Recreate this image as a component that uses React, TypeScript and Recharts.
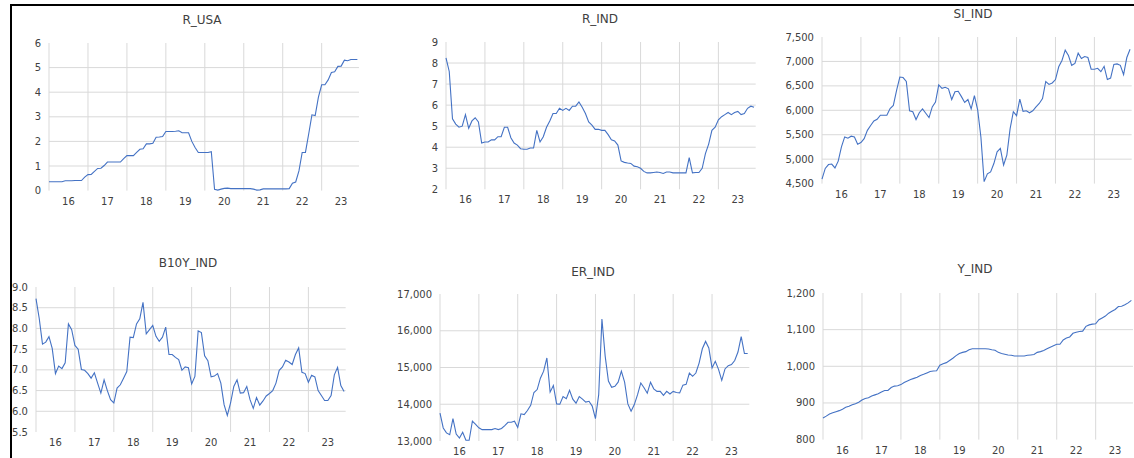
import React from "react";
import { Line, LineChart, ReferenceLine, XAxis, YAxis } from "recharts";

// monthly series, Jan 2016 - Dec 2023 (96 points each)
const yearLabels = ["16", "17", "18", "19", "20", "21", "22", "23"];
const yearStarts = [0, 12, 24, 36, 48, 60, 72, 84];
const yearMids = [6, 18, 30, 42, 54, 66, 78, 90];

const rUsa = [
  0.36, 0.36, 0.36, 0.36, 0.36, 0.4, 0.4, 0.4, 0.41, 0.41, 0.41, 0.55,
  0.65, 0.66, 0.78, 0.9, 0.91, 1.02, 1.16, 1.16, 1.16, 1.16, 1.16, 1.3,
  1.42, 1.42, 1.42, 1.55, 1.68, 1.7, 1.9, 1.9, 1.92, 2.17, 2.18, 2.2,
  2.4, 2.4, 2.4, 2.41, 2.43, 2.35, 2.35, 2.35, 2.0, 1.75, 1.55, 1.55,
  1.55, 1.55, 1.58, 0.05, 0.02, 0.06, 0.09, 0.1, 0.08, 0.08, 0.08, 0.08,
  0.08, 0.08, 0.08, 0.06, 0.02, 0.03, 0.07, 0.07, 0.07, 0.07, 0.07, 0.07,
  0.07, 0.07, 0.08, 0.3, 0.35, 0.8, 1.55, 1.55, 2.3, 3.08, 3.05, 3.8,
  4.3, 4.3, 4.5, 4.8, 4.83, 5.05, 5.06, 5.3, 5.28, 5.33, 5.33, 5.33,
];

const rInd = [
  8.25, 7.6, 5.35, 5.1, 4.95, 5.0, 5.55, 4.9, 5.25, 5.4, 5.2, 4.2,
  4.25, 4.25, 4.35, 4.35, 4.5, 4.5, 4.95, 4.95, 4.45, 4.2, 4.1, 3.93,
  3.9, 3.9, 3.96, 3.96, 4.8, 4.25, 4.5, 4.95, 5.25, 5.6, 5.6, 5.85,
  5.75, 5.85, 5.75, 5.95, 5.95, 6.15, 5.9, 5.6, 5.2, 5.05, 4.85, 4.85,
  4.8, 4.8, 4.6, 4.35, 4.3, 4.1, 3.35, 3.28, 3.25, 3.23, 3.1, 3.07,
  3.0, 2.85, 2.78, 2.78, 2.8, 2.82, 2.8, 2.75, 2.82, 2.82, 2.78, 2.78,
  2.78, 2.78, 2.78, 3.5, 2.78, 2.8, 2.8, 3.0, 3.7, 4.15, 4.8, 4.95,
  5.3, 5.45, 5.55, 5.65, 5.55, 5.65, 5.7, 5.55, 5.6, 5.85, 5.95, 5.9,
];

const siInd = [
  4590, 4810, 4890, 4900, 4820, 4960, 5250, 5455, 5430, 5470, 5455, 5305,
  5340, 5420, 5590, 5690, 5780, 5815, 5900, 5900, 5900, 6035, 6100, 6410,
  6680, 6670, 6590, 5990, 5970, 5810, 5950, 6030, 5940, 5850, 6070, 6170,
  6520, 6450, 6470, 6440, 6220, 6380, 6390, 6280, 6160, 6220, 6030, 6300,
  6010, 5455, 4540, 4700, 4740, 4910, 5150, 5220, 4880, 5080, 5620, 5970,
  5890, 6230, 5980, 5990, 5950, 5990, 6070, 6140, 6240, 6590, 6530, 6560,
  6630, 6890, 7020, 7230, 7120, 6920, 6960, 7170, 7060, 7100, 7080, 6840,
  6840, 6860, 6790, 6900, 6630, 6660, 6940, 6950, 6920, 6730, 7080, 7250,
];

const b10yInd = [
  8.72, 8.24, 7.62, 7.67, 7.8, 7.52, 6.91, 7.09, 7.03, 7.17, 8.11, 7.97,
  7.59, 7.5, 7.01, 6.99, 6.91, 6.8, 6.93, 6.68, 6.44, 6.76, 6.5, 6.28,
  6.2, 6.56, 6.64, 6.8, 6.96, 7.79, 7.78, 8.11, 8.23, 8.63, 7.87, 7.97,
  8.07, 7.81, 7.69, 7.79, 8.03, 7.37, 7.37, 7.3, 7.25, 6.99, 7.07, 7.05,
  6.66, 6.84, 7.94, 7.9, 7.34, 7.22, 6.83, 6.85, 6.91, 6.68, 6.16, 5.9,
  6.2, 6.6, 6.76, 6.44, 6.45, 6.6, 6.28, 6.07, 6.33, 6.15, 6.25, 6.37,
  6.43, 6.5, 6.68, 6.99, 7.07, 7.23, 7.19, 7.13, 7.37, 7.53, 6.94, 6.91,
  6.7, 6.87, 6.83, 6.5, 6.38, 6.26, 6.26, 6.38, 6.88, 7.06, 6.62, 6.48,
];

const erInd = [
  13760, 13355, 13220, 13170, 13610, 13190, 13080, 13240, 13020, 13020, 13540, 13450,
  13360, 13310, 13310, 13310, 13310, 13340, 13310, 13340, 13420, 13510, 13510, 13540,
  13370, 13740, 13720, 13830, 13970, 14320, 14400, 14710, 14900, 15260, 14330, 14510,
  14010, 14000, 14210, 14150, 14380, 14140, 14030, 14210, 14140, 14060, 14080, 13950,
  13610, 14260, 16320, 15310, 14630, 14460, 14490, 14600, 14900, 14600, 14010, 13810,
  13990, 14260, 14580, 14450, 14300, 14600, 14420, 14350, 14350, 14240, 14350, 14280,
  14350, 14320, 14310, 14520, 14540, 14850, 14760, 14850, 15120, 15510, 15710, 15530,
  14990, 15170, 14950, 14650, 14960, 15050, 15080, 15190, 15420, 15840, 15380, 15380,
];

const yInd = [
  859, 864, 870, 873, 876, 879, 883, 888, 891, 895, 898, 902,
  908, 912, 914, 919, 922, 925, 930, 934, 934, 942, 946, 947,
  950, 956, 960, 964, 967, 970, 975, 978, 982, 986, 987, 988,
  1003, 1007, 1010, 1016, 1022, 1029, 1035, 1038, 1040, 1045, 1048, 1048,
  1048, 1048, 1048, 1047, 1045, 1044, 1038, 1035, 1033, 1031, 1030, 1028,
  1028, 1028, 1028, 1030, 1031, 1032, 1038, 1040, 1043, 1048, 1052, 1056,
  1060, 1060, 1072, 1077, 1080, 1090, 1093, 1095, 1096, 1109, 1113, 1115,
  1116, 1127, 1132, 1137, 1145, 1150, 1155, 1163, 1164, 1168, 1173, 1180,
];

const FONT = '"DejaVu Sans", sans-serif';
const TEXT = "#404040";
const GRID = "#d9d9d9";
const BLUE = "#4472C4";
const YW = 60;
const MT = 4;
const MR = 4;
const XH = 24;

const plain = (v: number) => String(v);
const comma = (v: number) => v.toLocaleString("en-US");
const oneDec = (v: number) => v.toFixed(1);

type PanelProps = {
  title: string;
  values: number[];
  box: [number, number, number, number]; // plot area x0, y0, x1, y1
  titleAt: [number, number];
  yTicks: number[];
  fmt: (v: number) => string;
};

function Panel({ title, values, box, titleAt, yTicks, fmt }: PanelProps) {
  const data = values.map((v, i) => ({ i, v }));
  const [x0, y0, x1, y1] = box;
  const w = x1 - x0 + YW + MR;
  const h = y1 - y0 + MT + XH;
  const tick = { fill: TEXT, fontSize: 10, fontFamily: FONT };
  // excel draws no gridline on the top and bottom value
  const inner = yTicks.slice(1, -1);
  return (
    <>
      <div
        style={{
          position: "absolute",
          left: titleAt[0] - 80,
          top: titleAt[1] - 8,
          width: 160,
          textAlign: "center",
          fontFamily: FONT,
          fontSize: 12,
          lineHeight: "16px",
          color: TEXT,
        }}
      >
        {title}
      </div>
      <div style={{ position: "absolute", left: x0 - YW, top: y0 - MT }}>
        <LineChart
          width={w}
          height={h}
          data={data}
          margin={{ top: MT, right: MR, bottom: 0, left: 0 }}
        >
          {inner.map((t) => (
            <ReferenceLine key={"h" + t} y={t} stroke={GRID} />
          ))}
          {yearStarts.map((s) => (
            <ReferenceLine key={"v" + s} x={s} stroke={GRID} />
          ))}
          <XAxis
            dataKey="i"
            type="number"
            domain={[0, 95.5]}
            ticks={yearMids}
            interval={0}
            tickFormatter={(v: number) => yearLabels[yearMids.indexOf(v)]}
            axisLine={false}
            tickLine={false}
            tickSize={0}
            tickMargin={7}
            height={XH}
            tick={tick}
          />
          <YAxis
            type="number"
            domain={[yTicks[0], yTicks[yTicks.length - 1]]}
            ticks={yTicks}
            interval={0}
            tickFormatter={fmt}
            axisLine={false}
            tickLine={false}
            tickSize={0}
            tickMargin={8}
            width={YW}
            tick={tick}
          />
          <Line
            type="linear"
            dataKey="v"
            stroke={BLUE}
            strokeWidth={1.1}
            dot={false}
            activeDot={false}
            isAnimationActive={false}
          />
        </LineChart>
      </div>
    </>
  );
}

export default function App() {
  return (
    <div
      style={{
        position: "absolute",
        left: 0,
        top: 0,
        width: 1134,
        height: 458,
        overflow: "hidden",
        background: "#fff",
      }}
    >
      <Panel
        title="R_USA"
        values={rUsa}
        box={[49.3, 42.7, 359.3, 190.3]}
        titleAt={[202, 20]}
        yTicks={[0, 1, 2, 3, 4, 5, 6]}
        fmt={plain}
      />
      <Panel
        title="R_IND"
        values={rInd}
        box={[446.3, 41.7, 756, 189]}
        titleAt={[600, 19]}
        yTicks={[2, 3, 4, 5, 6, 7, 8, 9]}
        fmt={plain}
      />
      <Panel
        title="SI_IND"
        values={siInd}
        box={[822, 36.7, 1131.7, 183.3]}
        titleAt={[973, 14]}
        yTicks={[4500, 5000, 5500, 6000, 6500, 7000, 7500]}
        fmt={comma}
      />
      <Panel
        title="B10Y_IND"
        values={b10yInd}
        box={[36, 287.3, 345.7, 432.3]}
        titleAt={[188, 263]}
        yTicks={[5.5, 6, 6.5, 7, 7.5, 8, 8.5, 9]}
        fmt={oneDec}
      />
      <Panel
        title="ER_IND"
        values={erInd}
        box={[440, 294.3, 749.3, 441.3]}
        titleAt={[593, 272]}
        yTicks={[13000, 14000, 15000, 16000, 17000]}
        fmt={comma}
      />
      <Panel
        title="Y_IND"
        values={yInd}
        box={[822.7, 292.7, 1132.7, 439.3]}
        titleAt={[975, 269]}
        yTicks={[800, 900, 1000, 1100, 1200]}
        fmt={comma}
      />
      {/* frame lines from the source page */}
      <div
        style={{
          position: "absolute",
          left: 10,
          top: 4,
          width: 1124,
          height: 2,
          background: "#000",
        }}
      />
      <div
        style={{
          position: "absolute",
          left: 10,
          top: 4,
          width: 2,
          height: 454,
          background: "#000",
        }}
      />
    </div>
  );
}
